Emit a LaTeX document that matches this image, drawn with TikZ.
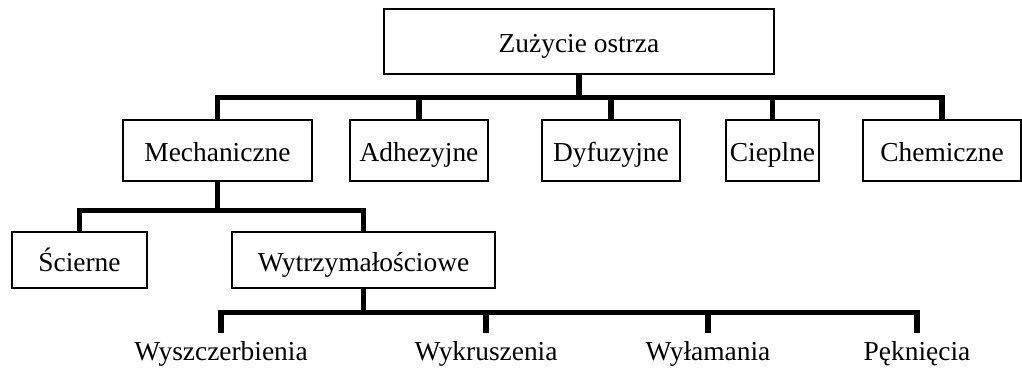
\documentclass[tikz,border=0pt]{standalone}
\usepackage{fontspec}
\setmainfont{Liberation Serif}

\begin{document}
\begin{tikzpicture}
		\tikzstyle{box}=[draw,line width=0.8pt,inner sep=0pt,text height=0.55cm,text depth=0pt,font=\fontsize{19.5pt}{23pt}\selectfont]
		\tikzstyle{level 0}=[box,minimum width=9.75cm,minimum height=1.625cm]
		\tikzstyle{level 1}=[box,minimum height=1.525cm]
		\tikzstyle{level 2}=[box,minimum height=1.4cm]
		\tikzstyle{leaf}=[anchor=north,inner xsep=0pt,inner ysep=0.21cm,text height=0.4675cm,text depth=0pt,font=\fontsize{19.5pt}{23pt}\selectfont]
		\tikzstyle{bus}=[line width=0.14cm]

		\useasboundingbox (0,0) rectangle (25.55,-9.175);

		\node[level 0] (zuz) at (14.475,-1.0375) {Zużycie ostrza};

		\node[level 1,minimum width=4.725cm] (mech) at (5.4375,-3.7625) {Mechaniczne};
		\node[level 1,minimum width=3.45cm] (adh) at (10.475,-3.7625) {Adhezyjne};
		\node[level 1,minimum width=3.45cm] (dyf) at (15.275,-3.7625) {Dyfuzyjne};
		\node[level 1,minimum width=2.325cm] (ciep) at (19.3125,-3.7625) {Cieplne};
		\node[level 1,minimum width=3.95cm] (chem) at (23.55,-3.7625) {Chemiczne};

		\node[level 2,minimum width=3.375cm] (scie) at (1.9875,-6.5) {Ścierne};
		\node[level 2,minimum width=6.575cm] (wytrz) at (9.0875,-6.5) {Wytrzymałościowe};

		\node[leaf] (wysz) at (5.525,-8.325) {Wyszczerbienia};
		\node[leaf] (wykr) at (12.15,-8.325) {Wykruszenia};
		\node[leaf] (wyl) at (17.7,-8.325) {Wyłamania};
		\node[leaf] (pek) at (22.925,-8.325) {Pęknięcia};

		\draw[bus] (zuz.south) -- ++(0,-0.575) -| (mech.north);
		\draw[bus] (zuz.south) -- ++(0,-0.575) -| (adh.north);
		\draw[bus] (zuz.south) -- ++(0,-0.575) -| (dyf.north);
		\draw[bus] (zuz.south) -- ++(0,-0.575) -| (ciep.north);
		\draw[bus] (zuz.south) -- ++(0,-0.575) -| (chem.north);

		\draw[bus] (mech.south) -- ++(0,-0.725) -| (scie.north);
		\draw[bus] (mech.south) -- ++(0,-0.725) -| (wytrz.north);

		\draw[bus] (wytrz.south) -- ++(0,-0.6) -| (wysz.north);
		\draw[bus] (wytrz.south) -- ++(0,-0.6) -| (wykr.north);
		\draw[bus] (wytrz.south) -- ++(0,-0.6) -| (wyl.north);
		\draw[bus] (wytrz.south) -- ++(0,-0.6) -| (pek.north);
	\end{tikzpicture}
\end{document}
